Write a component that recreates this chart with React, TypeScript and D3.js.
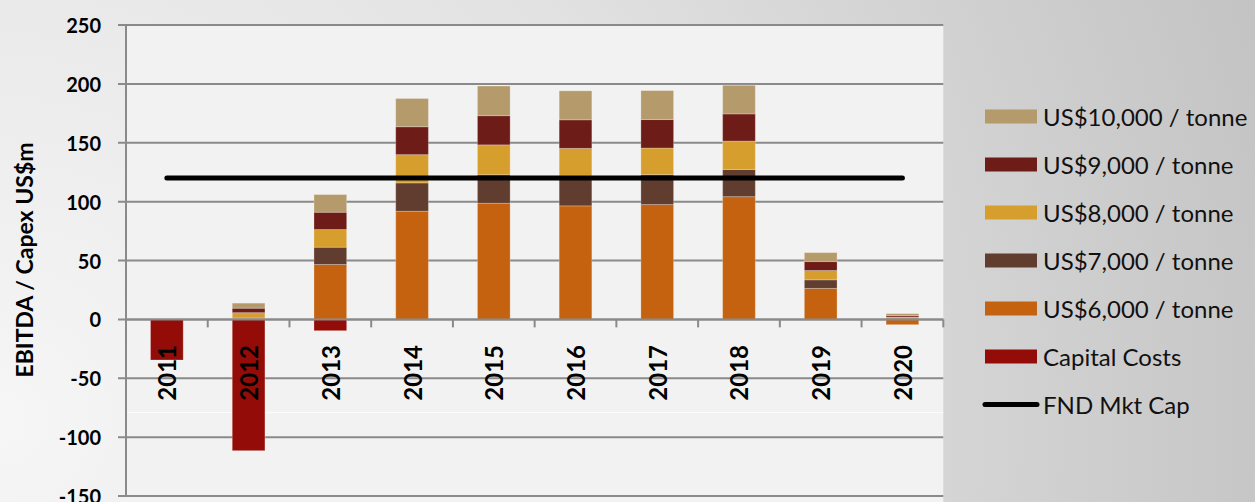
import React from 'react';
import * as d3 from 'd3';

const years = ['2011', '2012', '2013', '2014', '2015', '2016', '2017', '2018', '2019', '2020'];
const s6000 = [0, 0.7, 46.6, 91.8, 98.6, 96.4, 97.5, 104.2, 26.3, -4.5];
const s7000 = [0, 0.5, 14.7, 24.1, 24.2, 25.9, 25.4, 23.1, 7.3, 1.0];
const s8000 = [0, 4.5, 15.0, 24.0, 25.4, 22.9, 22.6, 24.1, 7.9, 1.0];
const s9000 = [0, 3.8, 14.7, 23.7, 24.8, 24.3, 24.2, 23.1, 7.6, 1.2];
const s10000 = [0, 4.3, 15.0, 24.0, 25.2, 24.6, 24.6, 24.3, 7.6, 1.7];
const capitalCosts = [-34.5, -111.5, -9.6, 0, 0, 0, 0, 0, 0, 0];
const mktCap = [120, 120, 120, 120, 120, 120, 120, 120, 120, 120];
const yTicks = [250, 200, 150, 100, 50, 0, -50, -100, -150];

const seriesKeys = ['s6000', 's7000', 's8000', 's9000', 's10000', 'capital'];
const seriesColors: Record<string, string> = {
  s6000: '#c4620f',
  s7000: '#613d2f',
  s8000: '#d69e2c',
  s9000: '#6e1c17',
  s10000: '#b59a6b',
  capital: '#930c07',
};
const legendItems = [
  { key: 's10000', label: 'US$10,000 / tonne' },
  { key: 's9000', label: 'US$9,000 / tonne' },
  { key: 's8000', label: 'US$8,000 / tonne' },
  { key: 's7000', label: 'US$7,000 / tonne' },
  { key: 's6000', label: 'US$6,000 / tonne' },
  { key: 'capital', label: 'Capital Costs' },
  { key: 'line', label: 'FND Mkt Cap' },
];

const W = 1255;
const H = 502;
const FONT = 'Lato, "Open Sans", sans-serif';

export default function App() {
  const left = 126;
  const right = 943.3;
  const top = 25;
  const bottom = 496;

  const x = d3.scaleBand<string>().domain(years).range([left, right]).paddingInner(0.6).paddingOuter(0.3);
  const xb = d3.scaleBand<string>().domain(years).range([left, right]).padding(0);
  const y = d3.scaleLinear().domain([-150, 250]).range([bottom, top]);

  const table = years.map((yr, i) => ({
    year: yr,
    s6000: s6000[i],
    s7000: s7000[i],
    s8000: s8000[i],
    s9000: s9000[i],
    s10000: s10000[i],
    capital: capitalCosts[i],
  }));
  const stack = d3.stack<any>().keys(seriesKeys).offset(d3.stackOffsetDiverging);
  const layers = stack(table);

  const line = d3
    .line<number>()
    .x((_, i) => xb(years[i])! + xb.bandwidth() / 2)
    .y((d) => y(d));

  const gridColor = '#8a8a8a';
  const legX = 985;
  const legY0 = 116.5;
  const legStep = 48;

  return (
    <svg width={W} height={H} style={{ position: 'absolute', left: 0, top: 0, display: 'block' }}>
      <defs>
        <radialGradient id="bg" gradientUnits="userSpaceOnUse" cx={0} cy={420} r={1350}>
          <stop offset="0" stopColor="#f6f6f6" />
          <stop offset="0.5" stopColor="#e2e2e2" />
          <stop offset="1" stopColor="#c2c2c2" />
        </radialGradient>
      </defs>
      <rect x={0} y={0} width={W} height={H} fill="url(#bg)" />
      <rect x={left} y={top} width={right - left} height={H - top} fill="#f2f2f2" />
      <line x1={left} x2={right} y1={412.5} y2={412.5} stroke="#fbfbfb" strokeWidth={1} />

      {yTicks.map((t) => (
        <g key={t}>
          <line x1={118} x2={right} y1={y(t)} y2={y(t)} stroke={gridColor} strokeWidth={2} />
          <text
            x={101}
            y={y(t)}
            textAnchor="end"
            dominantBaseline="central"
            fontFamily={FONT}
            fontWeight="bold"
            fontSize={20}
            fill="#000"
          >
            {t}
          </text>
        </g>
      ))}
      <line x1={left} x2={left} y1={top} y2={bottom + 1} stroke={gridColor} strokeWidth={2} />

      {layers.map((layer) => (
        <g key={layer.key} fill={seriesColors[layer.key]}>
          {layer.map((d, i) => {
            const y0 = y(d[0]);
            const y1 = y(d[1]);
            const h = Math.abs(y0 - y1);
            if (h < 0.01) return null;
            return (
              <rect
                key={i}
                x={x(years[i])}
                width={x.bandwidth()}
                y={Math.min(y0, y1)}
                height={h}
                stroke="rgba(255,255,255,0.25)"
                strokeWidth={1}
              />
            );
          })}
        </g>
      ))}

      <line x1={left} x2={right} y1={y(0)} y2={y(0)} stroke={gridColor} strokeWidth={2} />
      {years.map((yr) => (
        <line
          key={yr}
          x1={xb(yr)! + xb.bandwidth()}
          x2={xb(yr)! + xb.bandwidth()}
          y1={y(0)}
          y2={y(0) + 8}
          stroke={gridColor}
          strokeWidth={2}
        />
      ))}

      <path d={line(mktCap) || ''} fill="none" stroke="#000" strokeWidth={5} strokeLinecap="round" />

      {years.map((yr) => {
        const cx = xb(yr)! + xb.bandwidth() / 2;
        return (
          <text
            key={yr}
            transform={`translate(${cx},345) rotate(-90)`}
            textAnchor="end"
            dominantBaseline="central"
            fontFamily={FONT}
            fontWeight="bold"
            fontSize={24}
            fill="#000"
          >
            {yr}
          </text>
        );
      })}

      <text
        transform="translate(24,260) rotate(-90)"
        textAnchor="middle"
        dominantBaseline="central"
        fontFamily={FONT}
        fontWeight="bold"
        fontSize={23}
        fill="#000"
      >
        EBITDA / Capex US$m
      </text>

      {legendItems.map((it, i) => {
        const cy = legY0 + i * legStep;
        return (
          <g key={it.key}>
            {it.key === 'line' ? (
              <line x1={legX} x2={legX + 52} y1={cy} y2={cy} stroke="#000" strokeWidth={5} strokeLinecap="round" />
            ) : (
              <rect x={legX} y={cy - 7} width={52} height={14} fill={seriesColors[it.key]} />
            )}
            <text
              x={1043}
              y={cy}
              dominantBaseline="central"
              fontFamily={FONT}
              fontSize={24}
              fill="#111"
            >
              {it.label}
            </text>
          </g>
        );
      })}
    </svg>
  );
}
